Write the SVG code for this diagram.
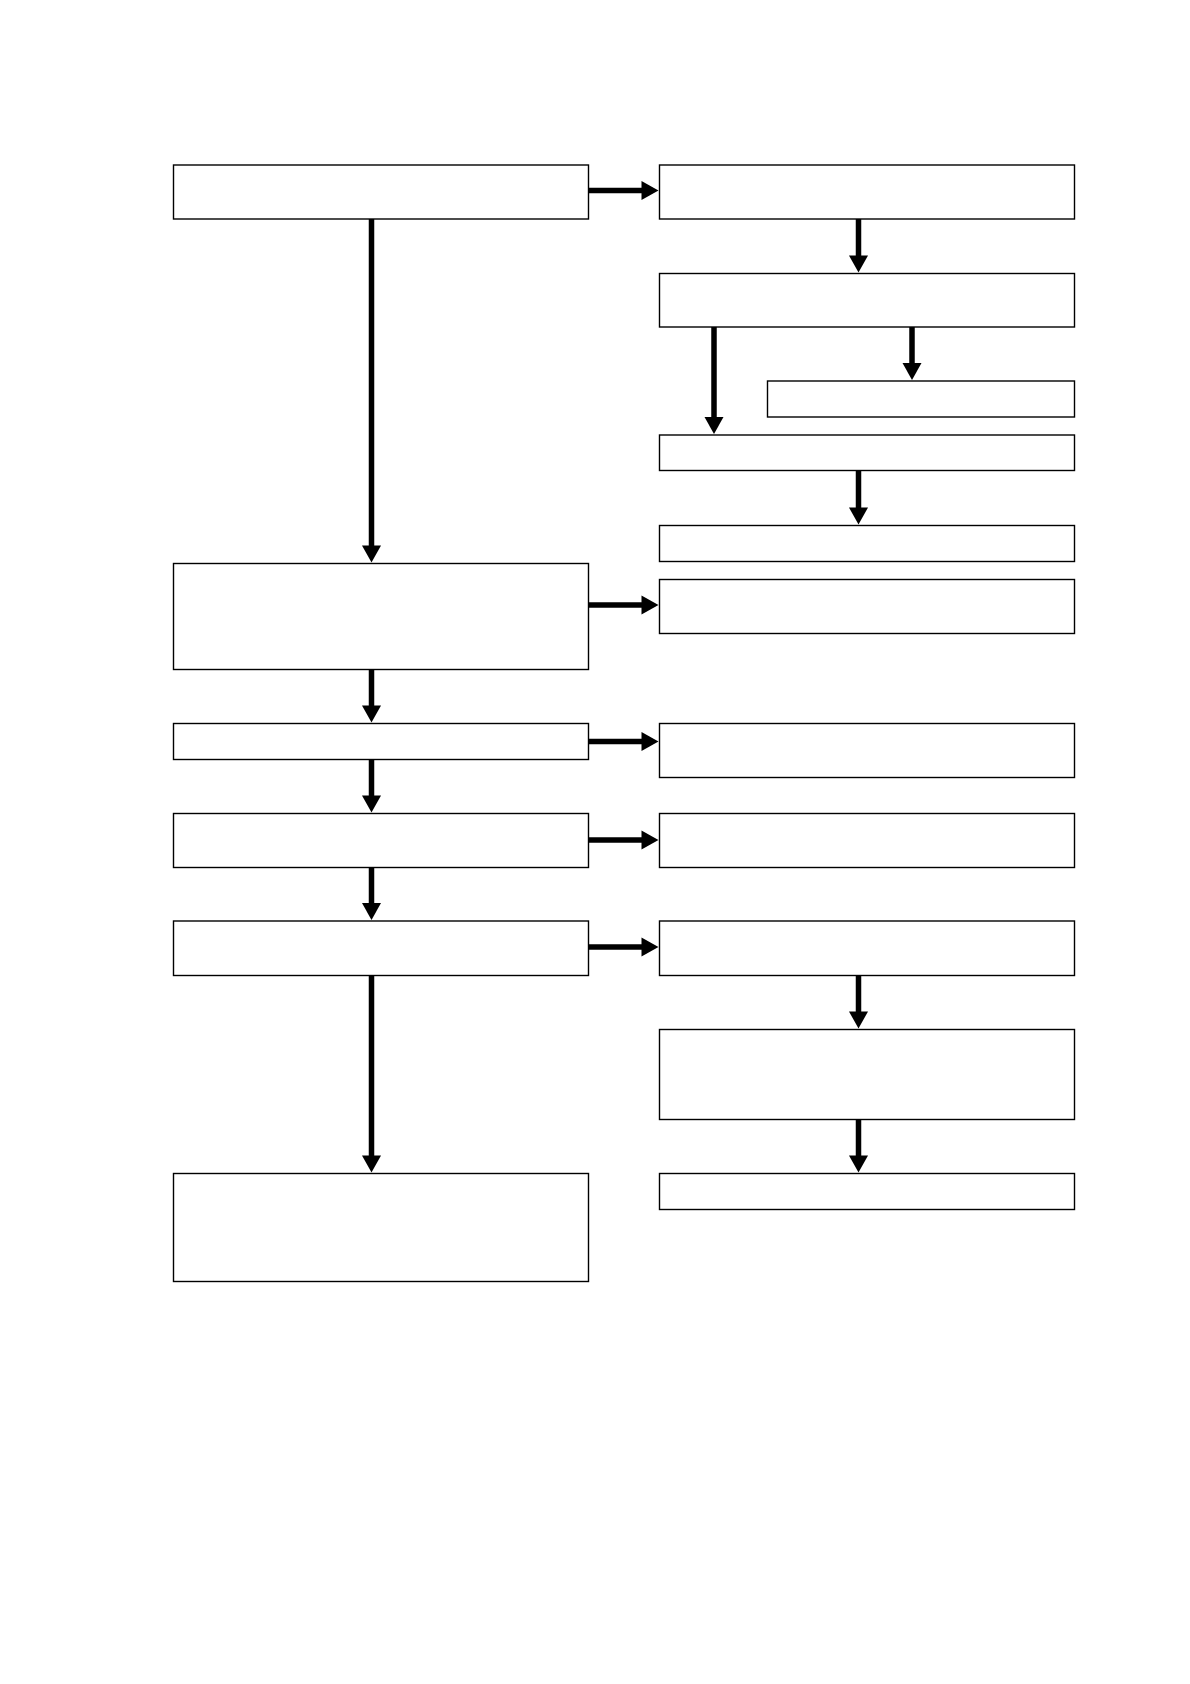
<svg xmlns="http://www.w3.org/2000/svg" width="1190" height="1684" viewBox="0 0 1190 1684">
<style>
.node rect{fill:#fff;stroke:#000;stroke-width:1.4}
.conn path{fill:none;stroke:#000;stroke-width:5.5}
</style>
<defs>
<marker id="ah" markerUnits="userSpaceOnUse" markerWidth="19" markerHeight="19" refX="1" refY="9.5" orient="auto" overflow="visible">
<path d="M0,0 L17,9.5 L0,19 Z" fill="#000"/>
</marker>
</defs>
<rect width="1190" height="1684" fill="#fff"/>
<g id="n-L1" class="node"><rect x="173.5" y="165" width="415" height="54"/></g>
<g id="n-R1" class="node"><rect x="659.5" y="165" width="415" height="54"/></g>
<g id="n-R2" class="node"><rect x="659.5" y="273.5" width="415" height="53.5"/></g>
<g id="n-R3" class="node"><rect x="767.5" y="381" width="307" height="36"/></g>
<g id="n-R4" class="node"><rect x="659.5" y="435" width="415" height="35.5"/></g>
<g id="n-R5" class="node"><rect x="659.5" y="525.5" width="415" height="36"/></g>
<g id="n-L2" class="node"><rect x="173.5" y="563.5" width="415" height="106"/></g>
<g id="n-R6" class="node"><rect x="659.5" y="579.5" width="415" height="54"/></g>
<g id="n-L3" class="node"><rect x="173.5" y="723.5" width="415" height="36"/></g>
<g id="n-R7" class="node"><rect x="659.5" y="723.5" width="415" height="54"/></g>
<g id="n-L4" class="node"><rect x="173.5" y="813.5" width="415" height="54"/></g>
<g id="n-R8" class="node"><rect x="659.5" y="813.5" width="415" height="54"/></g>
<g id="n-L5" class="node"><rect x="173.5" y="921" width="415" height="54.5"/></g>
<g id="n-R9" class="node"><rect x="659.5" y="921" width="415" height="54.5"/></g>
<g id="n-R10" class="node"><rect x="659.5" y="1029.5" width="415" height="90"/></g>
<g id="n-R11" class="node"><rect x="659.5" y="1173.5" width="415" height="36"/></g>
<g id="n-L6" class="node"><rect x="173.5" y="1173.5" width="415" height="108"/></g>
<g id="connectors" class="conn">
<path d="M588.5,190.5 H642.5" marker-end="url(#ah)"/>
<path d="M371.5,219 V546.5" marker-end="url(#ah)"/>
<path d="M858.5,219 V256.5" marker-end="url(#ah)"/>
<path d="M714,327 V418" marker-end="url(#ah)"/>
<path d="M912,327 V364" marker-end="url(#ah)"/>
<path d="M858.5,470.5 V508.5" marker-end="url(#ah)"/>
<path d="M588.5,605 H642.5" marker-end="url(#ah)"/>
<path d="M371.5,669.5 V706.5" marker-end="url(#ah)"/>
<path d="M588.5,741.5 H642.5" marker-end="url(#ah)"/>
<path d="M371.5,759.5 V796.5" marker-end="url(#ah)"/>
<path d="M588.5,840 H642.5" marker-end="url(#ah)"/>
<path d="M371.5,867.5 V904" marker-end="url(#ah)"/>
<path d="M588.5,947 H642.5" marker-end="url(#ah)"/>
<path d="M371.5,975.5 V1156.5" marker-end="url(#ah)"/>
<path d="M858.5,975.5 V1012.5" marker-end="url(#ah)"/>
<path d="M858.5,1119.5 V1156.5" marker-end="url(#ah)"/>
</g>
</svg>
